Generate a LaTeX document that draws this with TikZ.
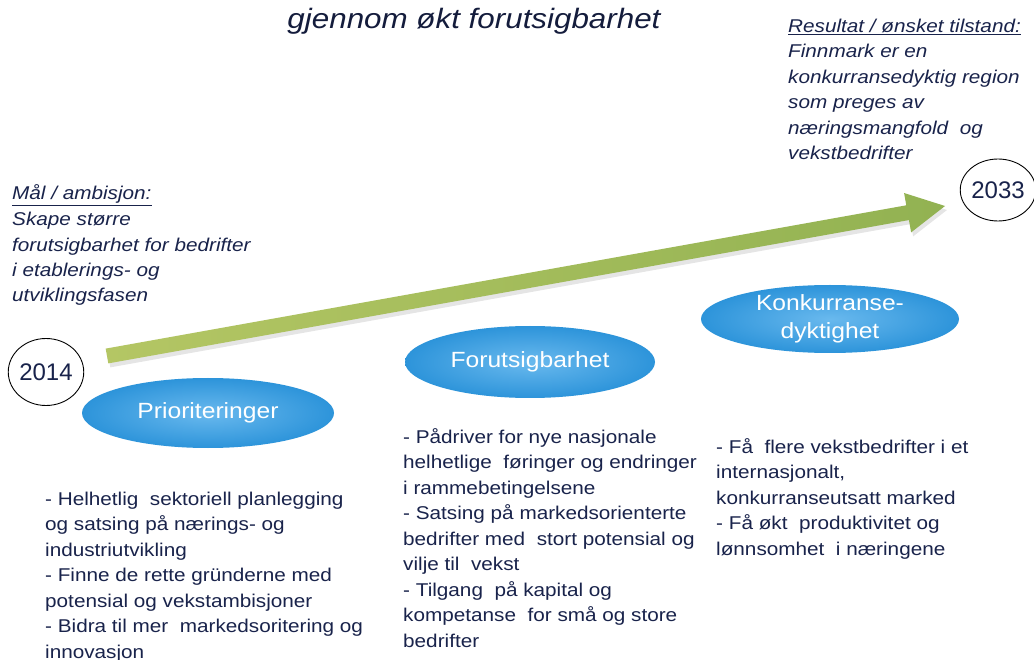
\documentclass[tikz,border=0pt]{standalone}
\usepackage{fontspec}
\setmainfont{Liberation Sans}
\newfontfamily\bodyfont[FakeStretch=1.12]{Liberation Sans}
\newfontfamily\yearfont{Liberation Sans}
\usetikzlibrary{shapes.geometric,calc}
\definecolor{navy}{RGB}{25,35,75}
\definecolor{ellDark}{RGB}{45,148,218}
\definecolor{ellLight}{RGB}{105,185,238}
\definecolor{arrowLeft}{RGB}{180,198,100}
\definecolor{arrowRight}{RGB}{146,178,82}
\tikzset{
  txt/.style={anchor=base west, align=left, inner sep=0pt, text=navy,
    font={\bodyfont\fontsize{18.5}{25.5}\selectfont}},
  itxt/.style={txt, font={\bodyfont\itshape\fontsize{18.5}{25.5}\selectfont}},
  titlestyle/.style={anchor=base, inner sep=0pt, text=navy!80!black,
    font={\bodyfont\itshape\fontsize{28}{32}\selectfont}},
  bubble/.style={ellipse, inner color=ellLight, outer color=ellDark, text=white,
    align=center, inner sep=0pt, font={\bodyfont\fontsize{22}{27.5}\selectfont}},
  yearcircle/.style={ellipse, draw=black, line width=0.9pt, inner sep=0pt,
    text=navy, font={\yearfont\fontsize{24}{28}\selectfont}},
}
\begin{document}
\begin{tikzpicture}[x=1pt,y=-1pt]
\useasboundingbox (0,0) rectangle (1034,660);
\fill[white] (0,0) rectangle (1034,660);

% title
\node[titlestyle] (title) at (474,29) {gjennom økt forutsigbarhet};

% right-top text (anchor at baseline of last line)
\node[itxt] (result) at (788,160) {\underline{Resultat / ønsket tilstand:}\\Finnmark er en\\konkurransedyktig region\\som preges av\\næringsmangfold\ \ og\\vekstbedrifter};

% left text
\node[itxt] (goal) at (12,302) {\underline{Mål / ambisjon:}\\Skape større\\forutsigbarhet for bedrifter\\i etablerings- og\\utviklingsfasen};

% arrow
\coordinate (aS) at (107,356);
\coordinate (aT) at (945,206);
\coordinate (aB) at ($(aT)!38pt!(aS)$);
\path
  coordinate (s1) at ($(aS)!7.5pt!90:(aT)$)
  coordinate (s2) at ($(aS)!7.5pt!-90:(aT)$)
  coordinate (b1) at ($(aB)!7.5pt!-90:(aS)$)
  coordinate (b2) at ($(aB)!7.5pt!90:(aS)$)
  coordinate (h1) at ($(aB)!20pt!-90:(aS)$)
  coordinate (h2) at ($(aB)!20pt!90:(aS)$);
\fill[black, opacity=0.10, transform canvas={shift={(2,4)}}]
  (s1) -- (b1) -- (h1) -- (aT) -- (h2) -- (b2) -- (s2) -- cycle;
\shade[left color=arrowLeft, right color=arrowRight]
  (s1) -- (b1) -- (h1) -- (aT) -- (h2) -- (b2) -- (s2) -- cycle;

% year circles
\node[yearcircle, minimum width=71pt, minimum height=67pt] (y2014) at (46,372) {2014};
\node[yearcircle, minimum width=70pt, minimum height=62pt] (y2033) at (998,190) {2033};

% bubbles
\node[bubble, minimum width=252pt, minimum height=70pt] (prio) at (208,413) {Prioriteringer};
\node[bubble, minimum width=250pt, minimum height=72pt] (forut) at (530,362) {Forutsigbarhet};
\node[bubble, minimum width=258pt, minimum height=68pt] (konk) at (830,319) {Konkurranse-\\dyktighet};

% bullet texts (anchor at baseline of last line)
\node[txt] (prioText) at (45,658) {- Helhetlig\ \ sektoriell planlegging\\og satsing på nærings- og\\industriutvikling\\- Finne de rette gründerne med\\potensial og vekstambisjoner\\- Bidra til mer\ \ markedsoritering og\\innovasjon};

\node[txt] (forutText) at (403,647) {- Pådriver for nye nasjonale\\helhetlige\ \ føringer og endringer\\i rammebetingelsene\\- Satsing på markedsorienterte\\bedrifter med\ \ stort potensial og\\vilje til\ \ vekst\\- Tilgang\ \ på kapital og\\kompetanse\ \ for små og store\\bedrifter};

\node[txt] (konkText) at (716,555) {- Få\ \ flere vekstbedrifter i et\\internasjonalt,\\konkurranseutsatt marked\\- Få økt\ \ produktivitet og\\lønnsomhet\ \ i næringene};
\end{tikzpicture}
\end{document}
